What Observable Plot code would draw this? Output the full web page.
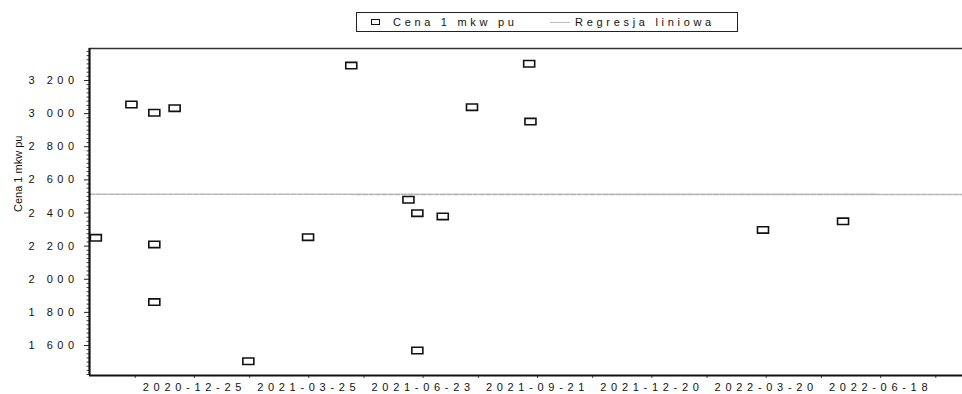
<!DOCTYPE html>
<html>
<head>
<meta charset="utf-8">
<script src="https://cdn.jsdelivr.net/npm/d3@7"></script>
<script src="https://cdn.jsdelivr.net/npm/@observablehq/plot@0.6"></script>
<style>
  html, body { margin: 0; padding: 0; background: #fff; }
  body { width: 962px; height: 394px; overflow: hidden; font-family: "Liberation Sans", Arial, sans-serif; }
  #legend { position: relative; width: 962px; height: 40px; }
  #legend .box { position: absolute; left: 356px; top: 12px; width: 382px; height: 20px; border: 1.5px solid #222; box-sizing: border-box; }
  #legend .sym { position: absolute; left: 371px; top: 19px; width: 9px; height: 6px; border: 1.3px solid #111; box-sizing: border-box; background: #fff; }
  #legend .line { position: absolute; left: 550px; top: 22px; width: 20px; height: 0; border-top: 1.5px solid #bbb; }
  #legend .t { position: absolute; top: 16px; font-size: 11px; letter-spacing: 3.7px; color: #111; white-space: pre; line-height: 13px; }
  svg text { fill: #111; }
  g[aria-label="y-axis tick label"] text { letter-spacing: 4.5px; }
  g[aria-label="x-axis tick label"] text { letter-spacing: 4.7px; }
</style>
</head>
<body>
<div id="legend">
  <div class="box"></div>
  <div class="sym"></div>
  <div class="t" id="lg1" style="left:393px"></div>
  <div class="line"></div>
  <div class="t" id="lg2" style="left:575px"></div>
</div>
<div id="chart"></div>
<script>
// ---- data ----
const dates = ["2020-10-10","2020-11-07","2020-11-25","2020-11-25","2020-11-25","2020-12-11",
  "2021-02-07","2021-03-26","2021-04-29","2021-06-13","2021-06-20","2021-06-20","2021-07-10",
  "2021-08-02","2021-09-16","2021-09-17","2022-03-19","2022-05-21"];
const prices = [2250, 3055, 3005, 2210, 1862, 3033,
  1505, 2254, 3290, 2480, 2399, 1570, 2379,
  3039, 3301, 2952, 2298, 2350];
const regDates = ["2020-10-05", "2022-08-23"];
const regValues = [2513, 2512];
const xDomain = ["2020-10-05", "2022-08-23"];
const yDomain = [1419, 3393];
const xTickLabels = ["2020-12-25","2021-03-25","2021-06-23","2021-09-21","2021-12-20","2022-03-20","2022-06-18"];
const yTicks = [1600, 1800, 2000, 2200, 2400, 2600, 2800, 3000, 3200];
const seriesName = "Cena 1 mkw pu";
const regName = "Regresja liniowa";
const yLabel = "Cena 1 mkw pu";

document.getElementById("lg1").textContent = seriesName;
document.getElementById("lg2").textContent = regName;

const points = dates.map((d, i) => ({date: new Date(d), price: prices[i]}));
const reg = regDates.map((d, i) => ({date: new Date(d), value: regValues[i]}));
const xd = xDomain.map(d => new Date(d));
const xTicks = xTickLabels.map(d => new Date(d));
const xMinor = [d3.utcDay.offset(xTicks[0], -45), ...xTicks.map(t => d3.utcDay.offset(t, 45))];
const yMinor = d3.range(1425, 3393, 25).filter(v => v % 200 !== 0);
const fmtY = d => d3.format(",")(d).replace(/,/g, " ");

const rectSymbol = { draw(ctx) { ctx.rect(-5.5, -3.2, 11, 6.4); } };

const chart = Plot.plot({
  width: 962,
  height: 354,
  marginLeft: 89,
  marginRight: 0,
  marginTop: 8,
  marginBottom: 19,
  style: { fontFamily: "'Liberation Sans', Arial, sans-serif", fontSize: "11px", background: "#fff", overflow: "visible" },
  x: { type: "utc", domain: xd },
  y: { domain: yDomain },
  marks: [
    Plot.line(reg, { x: "date", y: "value", stroke: "#b5b5b5", strokeWidth: 1.6, strokeDasharray: "5 1.5" }),
    Plot.axisY(yMinor, { tickSize: 2.5, stroke: "#444", tickFormat: () => "" }),
    Plot.axisY(yTicks, { tickSize: 5, tickPadding: 6, stroke: "#222", tickFormat: fmtY, fontSize: 11 }),
    Plot.axisX(xMinor, { tickSize: 3, stroke: "#444", tickFormat: () => "" }),
    Plot.axisX(xTicks, { tickSize: 3, tickPadding: 5, stroke: "#444", tickFormat: d3.utcFormat("%Y-%m-%d"), fontSize: 11, dx: 2 }),
    Plot.ruleY([yDomain[1]], { stroke: "#333", strokeWidth: 1.5 }),
    Plot.ruleY([yDomain[0]], { stroke: "#111", strokeWidth: 2.2 }),
    Plot.ruleX([xd[0]], { stroke: "#111", strokeWidth: 2.2 }),
    Plot.text([yLabel], { frameAnchor: "left", rotate: -90, dx: -71, text: d => d, fontSize: 11, fill: "#222" }),
    Plot.dot(points, { x: "date", y: "price", symbol: rectSymbol, fill: "white", stroke: "#111", strokeWidth: 1.6 })
  ]
});
document.getElementById("chart").appendChild(chart);
</script>
</body>
</html>
